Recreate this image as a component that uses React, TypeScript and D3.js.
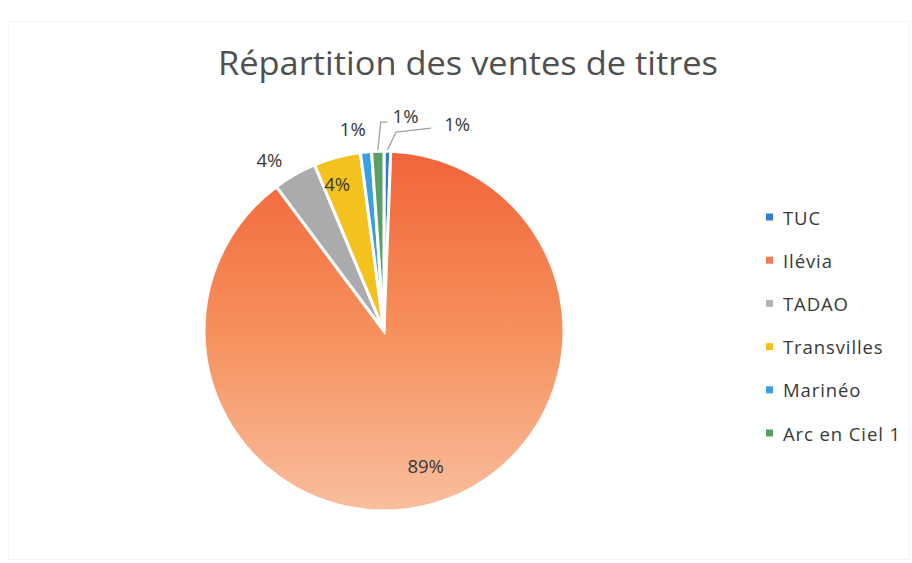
import React from "react";
import * as d3 from "d3";

const categories = ["TUC", "Ilévia", "TADAO", "Transvilles", "Marinéo", "Arc en Ciel 1"];
const values = [0.6, 89.2, 3.9, 4.2, 1.0, 1.1];
const sliceColors = ["#2f7fd1", "url(#ileviaGrad)", "#ababad", "#f4c21f", "#3aa0e4", "#5c9f66"];
const legendColors = ["#2f7fd1", "#f37a52", "#b4b4b6", "#f4c21f", "#3aa0e4", "#5c9f66"];
const title = "Répartition des ventes de titres";

const W = 912;
const H = 563;

export default function App() {
  const cx = 384;
  const cy = 331;
  const R = 180;
  const total = d3.sum(values);
  const pie = d3.pie<number>().sort(null).value((d) => d);
  const arcs = pie(values);
  const arcGen = d3.arc<d3.PieArcDatum<number>>().innerRadius(0).outerRadius(R);

  const pt = (a: number, r: number): [number, number] => [r * Math.sin(a), -r * Math.cos(a)];

  // label layout: radius factor + nudges (layout only)
  const labelLayout = [
    { f: 1.2, dx: 69, dy: 8, leader: true },
    { f: 0.78, dx: 0, dy: 0, leader: false },
    { f: 1.15, dx: -12, dy: 8, leader: false },
    { f: 0.85, dx: -7, dy: 0, leader: false },
    { f: 1.12, dx: -11, dy: -2, leader: false },
    { f: 1.2, dx: 29, dy: 0, leader: true },
  ];

  const legendY0 = 217;
  const legendStep = 43.2;

  return (
    <svg
      width={W}
      height={H}
      style={{ position: "absolute", left: 0, top: 0, display: "block", background: "#ffffff" }}
    >
      <defs>
        <linearGradient id="ileviaGrad" x1="0" y1="0" x2="0" y2="1">
          <stop offset="0%" stopColor="#f2643a" />
          <stop offset="50%" stopColor="#f6905c" />
          <stop offset="100%" stopColor="#f9bf9f" />
        </linearGradient>
      </defs>
      <rect x={8.5} y={21.5} width={901} height={538} fill="#ffffff" stroke="#f4f4f4" strokeWidth={1} />
      <text
        x={468}
        y={75}
        textAnchor="middle"
        fontFamily="'Open Sans', sans-serif"
        fontSize={33}
        fill="#505050"
        textLength={500}
        lengthAdjust="spacingAndGlyphs"
      >
        {title}
      </text>
      <g transform={`translate(${cx},${cy})`}>
        {arcs.map((a, i) => (
          <path key={i} d={arcGen(a) || ""} fill={sliceColors[i]} stroke="#ffffff" strokeWidth={3} strokeLinejoin="miter" />
        ))}
        {arcs.map((a, i) => {
          const mid = (a.startAngle + a.endAngle) / 2;
          const L = labelLayout[i];
          const [bx, by] = pt(mid, R * L.f);
          const lx = bx + L.dx;
          const ly = by + L.dy;
          const pct = Math.round((values[i] / total) * 100) + "%";
          let leader = null;
          if (L.leader) {
            const [sx, sy] = pt(mid, R + 1);
            const pts =
              i === 0
                ? [[sx, sy], [lx - 61, ly + 9], [lx - 26, ly + 5]]
                : [[sx, sy], [sx + 3, ly + 7], [lx - 18, ly + 7]];
            leader = (
              <polyline
                points={pts.map((p) => p.join(",")).join(" ")}
                fill="none"
                stroke="#a0a0a0"
                strokeWidth={1.3}
              />
            );
          }
          return (
            <g key={"l" + i}>
              {leader}
              <text
                x={lx}
                y={ly}
                textAnchor="middle"
                dominantBaseline="central"
                fontFamily="'Open Sans', sans-serif"
                fontSize={18.5}
                fill="#383838"
              >
                {pct}
              </text>
            </g>
          );
        })}
      </g>
      <g>
        {categories.map((c, i) => (
          <g key={c} transform={`translate(766,${legendY0 + i * legendStep})`}>
            <rect x={0} y={-3.5} width={7} height={7} fill={legendColors[i]} />
            <text
              x={17}
              y={0}
              dominantBaseline="central"
              fontFamily="'Open Sans', sans-serif"
              fontSize={18.5}
              letterSpacing={0.9}
              fill="#383838"
            >
              {c}
            </text>
          </g>
        ))}
      </g>
    </svg>
  );
}
